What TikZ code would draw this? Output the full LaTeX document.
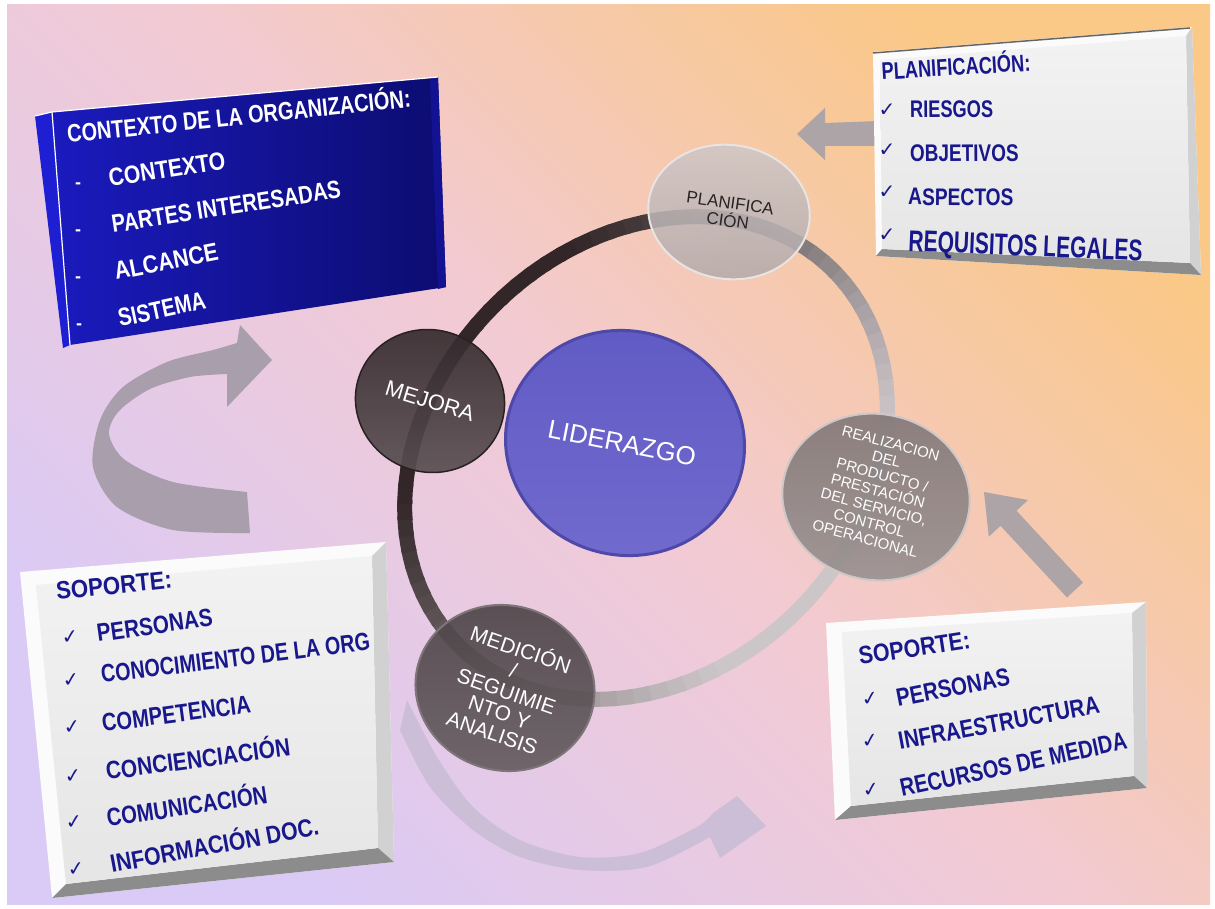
\documentclass[tikz,border=0pt]{standalone}
\usepackage{fontspec}
\setmainfont{Liberation Sans}
\newfontfamily\dejavu{DejaVu Sans}
\usetikzlibrary{shapes.geometric}
\definecolor{tblue}{RGB}{24,24,140}
\definecolor{bglav}{RGB}{218,202,246}
\definecolor{bgpink}{RGB}{242,202,212}
\definecolor{bgor}{RGB}{250,200,135}
\definecolor{ringd}{RGB}{50,38,40}
\definecolor{ringl}{RGB}{205,198,200}
\definecolor{bluehi}{RGB}{30,30,210}
\definecolor{bluelo}{RGB}{12,12,112}
\definecolor{arrg}{RGB}{172,164,166}
\definecolor{arrl}{RGB}{168,158,172}
\definecolor{arrb}{RGB}{204,190,214}
\begin{document}
\begin{tikzpicture}[x=1pt,y=-1pt,
  wt/.style={text=white, font=\bfseries\fontsize{25}{25}\selectfont, anchor=base west, inner sep=0pt},
  bt/.style={text=tblue, font=\bfseries\fontsize{25}{25}\selectfont, anchor=base west, inner sep=0pt},
  chk/.style={text=tblue, font=\dejavu\fontsize{20}{20}\selectfont, inner sep=0pt},
  dsh/.style={text=white, font=\bfseries\fontsize{18}{18}\selectfont, inner sep=0pt},
  circ/.style={ellipse, inner sep=0pt},
  ctext/.style={align=center, inner sep=0pt, text=white},
  outerbox/.style={fill=white!97!gray},
  face/.style={top color=white!90!gray, bottom color=white!80!gray},
  botbev/.style={fill=black!45},
  rbev/.style={fill=black!18},
]
\useasboundingbox (0,0) rectangle (1215,909);
\fill[white] (0,0) rectangle (1215,909);
\shade[left color=bglav, right color=bgor, middle color=bgpink, shading angle=135] (7,5) rectangle (1210,904);

% ---------- ring ----------
\begin{scope}[shift={(646,458)}, rotate=45]
\foreach \a in {0,4,...,356}{
  \pgfmathsetmacro\p{max(0,min(100,50+60*cos(\a-255)))}
  \draw[line width=15pt, draw=ringd!\p!ringl] ({265*cos(\a)},{215*sin(\a)}) arc[start angle=\a, end angle=\a+5, x radius=265, y radius=215];
}
\end{scope}

% ---------- circles ----------
\node[circ, minimum width=162pt, minimum height=134pt, rotate=-8, top color={rgb,255:red,208;green,200;blue,200}, bottom color={rgb,255:red,178;green,170;blue,170}, draw={rgb,255:red,232;green,228;blue,228}, line width=2pt, fill opacity=0.85] (plan) at (729,212) {};
\node[circ, minimum width=150pt, minimum height=142pt, rotate=-20, top color={rgb,255:red,50;green,40;blue,43}, bottom color={rgb,255:red,88;green,78;blue,81}, draw={rgb,255:red,40;green,32;blue,35}, line width=1.5pt, fill opacity=0.92] (mej) at (430,401) {};
\node[circ, minimum width=240pt, minimum height=224pt, rotate=-15, top color={rgb,255:red,96;green,90;blue,196}, bottom color={rgb,255:red,112;green,106;blue,206}, draw={rgb,255:red,78;green,72;blue,168}, line width=3pt] (lid) at (625,443) {};
\node[circ, minimum width=188pt, minimum height=166pt, rotate=-10, top color={rgb,255:red,128;green,118;blue,118}, bottom color={rgb,255:red,152;green,144;blue,144}, draw={rgb,255:red,205;green,200;blue,200}, line width=2pt, fill opacity=0.9] (real) at (876,497) {};
\node[circ, minimum width=180pt, minimum height=165pt, rotate=-15, top color={rgb,255:red,78;green,68;blue,72}, bottom color={rgb,255:red,100;green,92;blue,96}, draw={rgb,255:red,125;green,117;blue,120}, line width=2pt, fill opacity=0.92] (med) at (505,688) {};

\node[ctext, rotate=-8, text={rgb,255:red,40;green,35;blue,35}, font=\fontsize{17}{18}\selectfont] (plant) at (plan.center) {PLANIFICA\\CIÓN};
\node[ctext, rotate=-17, font=\fontsize{22}{22}\selectfont] (mejt) at (mej.center) {MEJORA};
\node[ctext, rotate=-11, font=\fontsize{26}{26}\selectfont] (lidt) at (622,443) {LIDERAZGO};
\node[ctext, rotate=-15, font=\fontsize{15}{16.5}\selectfont] (realt) at (878,491) {REALIZACION\\DEL\\PRODUCTO /\\PRESTACIÓN\\DEL SERVICIO,\\CONTROL\\OPERACIONAL};
\node[ctext, rotate=-19, font=\fontsize{21}{22}\selectfont] (medt) at (507,690) {MEDICIÓN\\/\\SEGUIMIE\\NTO Y\\ANALISIS};

% ---------- arrows ----------
\fill[arrl] plot[smooth] coordinates {(250,533) (173,530) (117,507) (93,467) (100,420) (123,387) (167,362) (213,350) (237,343)} -- (240,325) -- (272,360) -- (227,407) -- plot[smooth] coordinates {(227,374) (190,377) (150,389) (119,411) (109,434) (125,460) (173,482) (247,492)} -- cycle;
\fill[arrb] plot[smooth] coordinates {(407,700) (437,757) (473,807) (520,840) (580,857) (640,853) (697,827) (713,813)} -- (737,796) -- (766,826) -- (720,858) -- plot[smooth] coordinates {(710,837) (647,867) (580,870) (520,857) (473,830) (430,787) (400,730)} -- cycle;
\fill[arrg] (797,134) -- (825,108) -- (825,123) -- (878,121) -- (878,146) -- (825,146) -- (825,160) -- cycle;
\fill[arrg] (984,492) -- (1028,500) -- (1016.5,510.8) -- (1083,582.5) -- (1067,597.5) -- (1000.5,525.8) -- (988.8,536.7) -- cycle;

% ---------- blue box ----------
\fill[bluehi] (35,116) -- (52,112) -- (70,345) -- (63,348) -- cycle;
\shade[left color=bluehi!80!bluelo, right color=bluelo] (52,112) -- (438,77) -- (446,287) -- (70,345) -- cycle;
\fill[bluehi!35!bluelo] (430,80) -- (438,77) -- (446,287) -- (438,289) -- cycle;
\draw[white, line width=1.2pt] (35,116) -- (52,112) -- (438,77);
\draw[white, line width=1.2pt] (52,112) -- (70,345);
\node[wt, rotate=6, xscale=0.8] (ctxh) at (68,143) {CONTEXTO DE LA ORGANIZACIÓN:};
\node[dsh] (d1) at (78,186) {-};
\node[dsh] (d2) at (78,233) {-};
\node[dsh] (d3) at (78,280) {-};
\node[dsh] (d4) at (79,327) {-};
\node[wt, rotate=9, xscale=0.85] (c1) at (110,187) {CONTEXTO};
\node[wt, rotate=8.8, xscale=0.81] (c2) at (113,233) {PARTES INTERESADAS};
\node[wt, rotate=11, xscale=0.86] (c3) at (116,280) {ALCANCE};
\node[wt, rotate=12, xscale=0.8] (c4) at (120,327) {SISTEMA};

% ---------- planificacion box ----------
\fill[outerbox] (873,52) -- (1192,27) -- (1201,275) -- (876,256) -- cycle;
\fill[rbev] (1186,36) -- (1192,27) -- (1201,275) -- (1190,263) -- cycle;
\fill[botbev] (882,249) -- (1190,263) -- (1201,275) -- (876,256) -- cycle;
\shade[face] (880,60) -- (1186,36) -- (1190,263) -- (882,249) -- cycle;
\draw[black!60, line width=1.5pt] (873,53) -- (1190,28);
\node[bt, rotate=3.5, xscale=0.76, font=\bfseries\fontsize{24}{24}\selectfont] (ph) at (882,80) {PLANIFICACIÓN:};
\node[chk] (pk1) at (887,110) {✓};
\node[chk] (pk2) at (887,150) {✓};
\node[chk] (pk3) at (887,192) {✓};
\node[chk] (pk4) at (887,235) {✓};
\node[bt, rotate=0.5, xscale=0.76, font=\bfseries\fontsize{24}{24}\selectfont] (p1) at (910,118) {RIESGOS};
\node[bt, rotate=0.5, xscale=0.79, font=\bfseries\fontsize{24}{24}\selectfont] (p2) at (910,162) {OBJETIVOS};
\node[bt, rotate=-0.5, xscale=0.8, font=\bfseries\fontsize{24}{24}\selectfont] (p3) at (908,205) {ASPECTOS};
\node[bt, rotate=-2.4, xscale=0.7, font=\bfseries\fontsize{30}{30}\selectfont] (p4) at (908,251) {REQUISITOS LEGALES};

% ---------- left soporte box ----------
\fill[outerbox] (20,572) -- (386,542) -- (394,862) -- (52,898) -- cycle;
\fill[rbev] (372,556) -- (386,542) -- (394,862) -- (378,848) -- cycle;
\fill[botbev] (66,884) -- (378,848) -- (394,862) -- (52,898) -- cycle;
\shade[face] (36,585) -- (372,556) -- (378,848) -- (66,884) -- cycle;
\node[bt, rotate=6, xscale=0.89] (sh) at (57,600) {SOPORTE:};
\node[chk, rotate=6] (lk1) at (70,637) {✓};
\node[chk, rotate=6] (lk2) at (71,680) {✓};
\node[chk, rotate=6] (lk3) at (72,727) {✓};
\node[chk, rotate=6] (lk4) at (73,776) {✓};
\node[chk, rotate=6] (lk5) at (74,822) {✓};
\node[chk, rotate=6] (lk6) at (76,869) {✓};
\node[bt, rotate=8, xscale=0.83] (l1) at (98,642) {PERSONAS};
\node[bt, rotate=7, xscale=0.79] (l2) at (102,683) {CONOCIMIENTO DE LA ORG};
\node[bt, rotate=7.5, xscale=0.81] (l3) at (103,732) {COMPETENCIA};
\node[bt, rotate=7.5, xscale=0.84] (l4) at (107,780) {CONCIENCIACIÓN};
\node[bt, rotate=8.5, xscale=0.81] (l5) at (108,827) {COMUNICACIÓN};
\node[bt, rotate=10.5, xscale=0.85] (l6) at (112,873) {INFORMACIÓN DOC.};

% ---------- right soporte box ----------
\fill[outerbox] (826,623) -- (1146,602) -- (1147,788) -- (835,820) -- cycle;
\fill[rbev] (1132,613) -- (1146,602) -- (1147,788) -- (1134,776) -- cycle;
\fill[botbev] (851,806) -- (1134,776) -- (1147,788) -- (835,820) -- cycle;
\shade[face] (842,632) -- (1132,613) -- (1134,776) -- (851,806) -- cycle;
\node[bt, rotate=8.7, xscale=0.86] (rh) at (860,665) {SOPORTE:};
\node[chk, rotate=8] (rk1) at (870,699) {✓};
\node[chk, rotate=8] (rk2) at (870,741) {✓};
\node[chk, rotate=8] (rk3) at (871,790) {✓};
\node[bt, rotate=11, xscale=0.82] (r1) at (898,707) {PERSONAS};
\node[bt, rotate=10.5, xscale=0.82] (r2) at (900,750) {INFRAESTRUCTURA};
\node[bt, rotate=12, xscale=0.8] (r3) at (902,797) {RECURSOS DE MEDIDA};
\end{tikzpicture}
\end{document}
